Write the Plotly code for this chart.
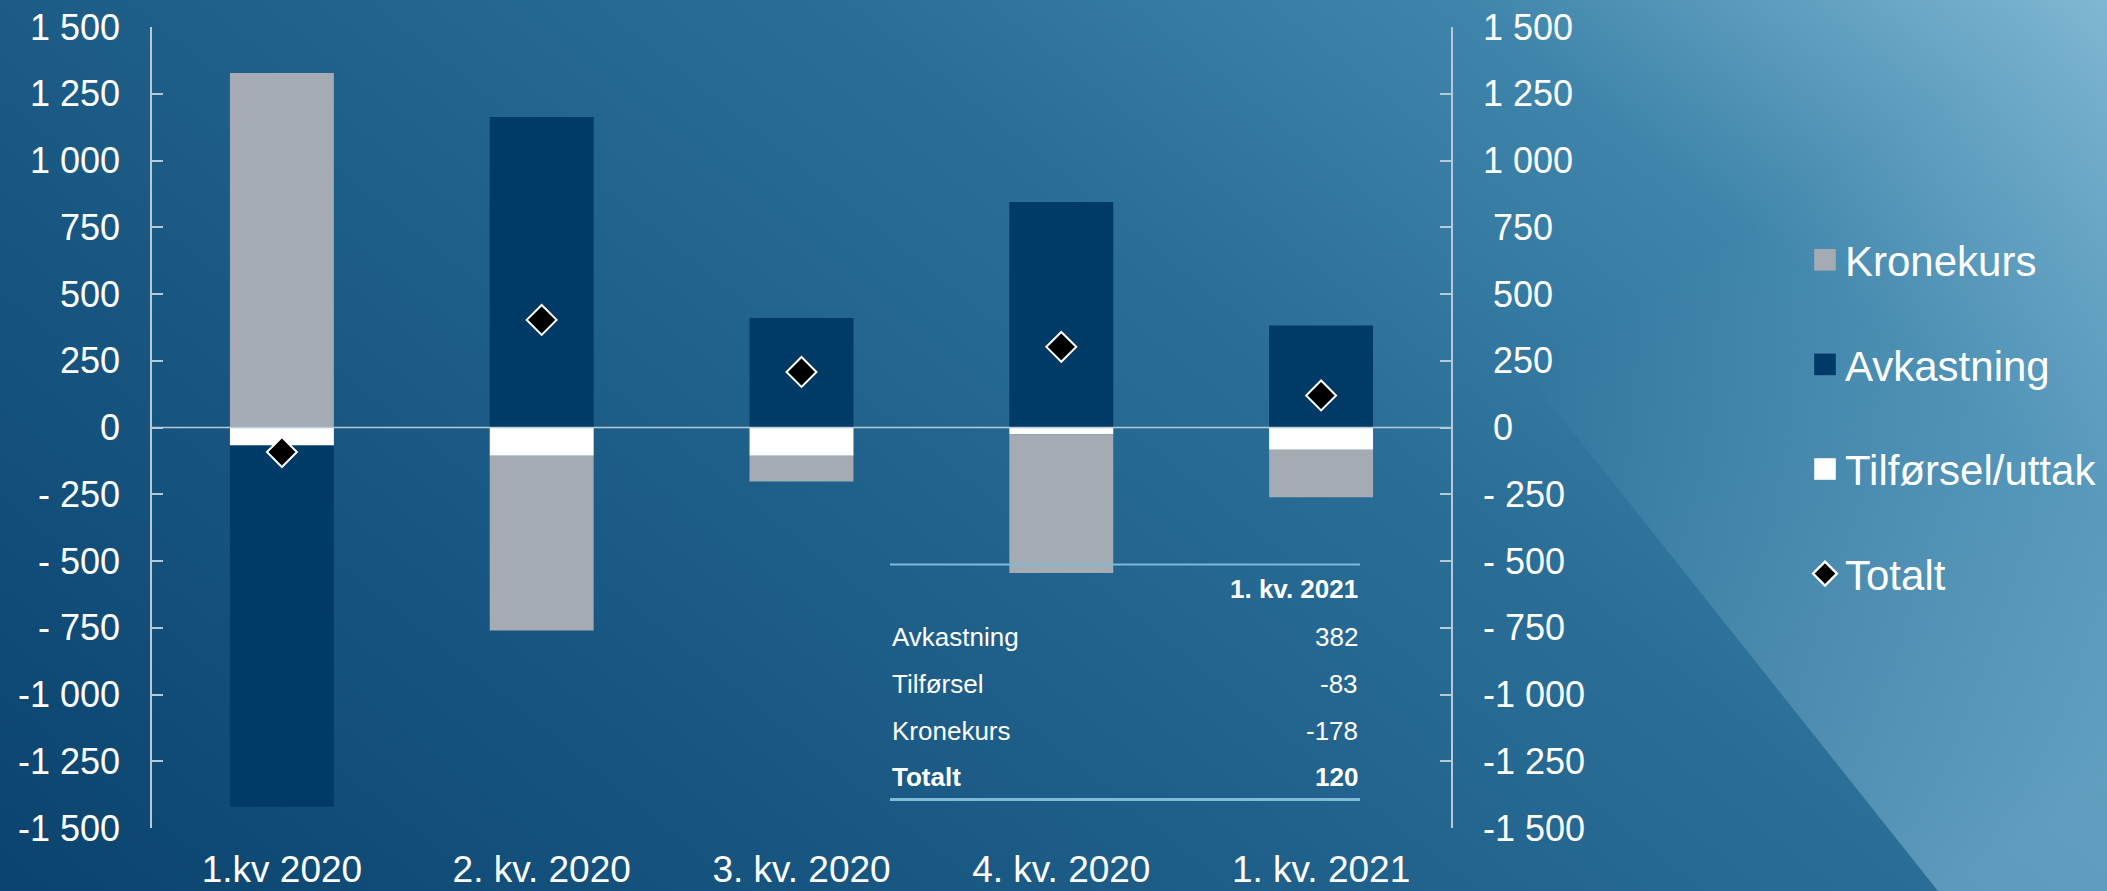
import base64
import plotly.graph_objects as go

# ---------------- data ----------------
categories = ["1.kv 2020", "2. kv. 2020", "3. kv. 2020", "4. kv. 2020", "1. kv. 2021"]
kronekurs = [1328, -654, -96, -520, -178]
avkastning = [-1353, 1163, 410, 845, 382]
tilforsel = [-67, -106, -106, -25, -83]
totalt = [-92, 403, 208, 302, 120]

tick_vals = [1500, 1250, 1000, 750, 500, 250, 0, -250, -500, -750, -1000, -1250, -1500]
tick_text_left = ["1 500", "1 250", "1 000", "750", "500", "250", "0",
                  "- 250", "- 500", "- 750", "-1 000", "-1 250", "-1 500"]
tick_text_right = ["1 500", "1 250", "1 000", "\u00a0750", "\u00a0500", "\u00a0250", "\u00a00",
                   "- 250", "- 500", "- 750", "-1 000", "-1 250", "-1 500"]

table_header = "1. kv. 2021"
table_labels = ["Avkastning", "Tilførsel", "Kronekurs", "Totalt"]
table_values = ["382", "-83", "-178", "120"]

# ---------------- geometry ----------------
W, H = 2107, 891
ML, MR, MT, MB = 152, 656, 27, 63
PW, PH = W - ML - MR, H - MT - MB


def px_x(px):
    return (px - ML) / PW


def px_y(py):
    return (H - MB - py) / PH


FONT = "Arial, Liberation Sans, sans-serif"
WHITE = "#ffffff"
AXIS_COL = "#b6c9d7"
GREY = "#a4abb2"
NAVY = "#003a66"

# ---------------- background (svg gradient) ----------------
svg = f"""<svg xmlns='http://www.w3.org/2000/svg' width='{W}' height='{H}' viewBox='0 0 {W} {H}' preserveAspectRatio='none'>
<defs>
<linearGradient id='g' gradientUnits='userSpaceOnUse' x1='0' y1='{H}' x2='1261' y2='-680'>
<stop offset='0' stop-color='#0a436e'/>
<stop offset='0.35' stop-color='#1c5c87'/>
<stop offset='0.6' stop-color='#2a6e97'/>
<stop offset='0.8' stop-color='#3f85ab'/>
<stop offset='1' stop-color='#80b7d3'/>
</linearGradient>
<linearGradient id='h' gradientUnits='userSpaceOnUse' x1='1526' y1='373' x2='1900' y2='920'>
<stop offset='0' stop-color='#8ec4de' stop-opacity='0'/>
<stop offset='1' stop-color='#8ec4de' stop-opacity='0.5'/>
</linearGradient>
</defs>
<rect x='0' y='0' width='{W}' height='{H}' fill='url(#g)'/>
<polygon points='1526,373 1938,{H} {W},{H} {W},0' fill='url(#h)'/>
</svg>"""
svg_uri = "data:image/svg+xml;base64," + base64.b64encode(svg.encode("utf-8")).decode("ascii")

# ---------------- traces ----------------
fig = go.Figure()
fig.add_trace(go.Bar(x=categories, y=tilforsel, name="Tilførsel/uttak",
                     marker=dict(color=WHITE, line=dict(width=0)), legendrank=3,
                     legendgroup="c"))
fig.add_trace(go.Bar(x=categories, y=kronekurs, name="Kronekurs",
                     marker=dict(color=GREY, line=dict(width=0)), legendrank=1,
                     legendgroup="a"))
fig.add_trace(go.Bar(x=categories, y=avkastning, name="Avkastning",
                     marker=dict(color=NAVY, line=dict(width=0)), legendrank=2,
                     legendgroup="b"))
fig.add_trace(go.Scatter(x=categories, y=totalt, name="Totalt", mode="markers",
                         yaxis="y2",
                         marker=dict(symbol="diamond", size=23, color="#000000",
                                     line=dict(color=WHITE, width=2)),
                         legendrank=4, legendgroup="d"))

axis_common = dict(
    range=[-1500, 1500], tickmode="array", tickvals=tick_vals,
    ticks="inside", ticklen=11, tickwidth=1.5, tickcolor=AXIS_COL,
    showline=True, linecolor=AXIS_COL, linewidth=1.5,
    showgrid=False, zeroline=False, automargin=False,
    tickfont=dict(family=FONT, size=36, color=WHITE),
    ticklabelstandoff=23, fixedrange=True,
)

shapes = [
    dict(type="line", xref="paper", yref="y", x0=0, x1=1, y0=0, y1=0,
         line=dict(color=AXIS_COL, width=1.5), layer="above"),
    dict(type="line", xref="paper", yref="paper", x0=px_x(890), x1=px_x(1360),
         y0=px_y(564.5), y1=px_y(564.5), line=dict(color="#7fbad8", width=2), layer="above"),
    dict(type="line", xref="paper", yref="paper", x0=px_x(890), x1=px_x(1360),
         y0=px_y(799.5), y1=px_y(799.5), line=dict(color="#7fbad8", width=3), layer="above"),
]

annotations = [dict(xref="paper", yref="paper", x=px_x(1360), y=px_y(589),
                    text=f"<b>{table_header}</b>", showarrow=False, xanchor="right",
                    yanchor="middle", font=dict(family=FONT, size=26, color=WHITE))]
row_y = [637, 684, 731, 777]
for i, (lab, val) in enumerate(zip(table_labels, table_values)):
    bold = i == len(table_labels) - 1
    lt = f"<b>{lab}</b>" if bold else lab
    vt = f"<b>{val}</b>" if bold else val
    annotations.append(dict(xref="paper", yref="paper", x=px_x(890), y=px_y(row_y[i]),
                            text=lt, showarrow=False, xanchor="left", yanchor="middle",
                            font=dict(family=FONT, size=26, color=WHITE)))
    annotations.append(dict(xref="paper", yref="paper", x=px_x(1360), y=px_y(row_y[i]),
                            text=vt, showarrow=False, xanchor="right", yanchor="middle",
                            font=dict(family=FONT, size=26, color=WHITE)))

fig.update_layout(
    width=W, height=H, autosize=False,
    margin=dict(l=ML, r=MR, t=MT, b=MB, pad=0, autoexpand=False),
    barmode="relative", bargap=0.6,
    paper_bgcolor="#1f628c", plot_bgcolor="rgba(0,0,0,0)",
    font=dict(family=FONT, color=WHITE),
    xaxis=dict(type="category", showline=False, showgrid=False, zeroline=False,
               ticks="", tickfont=dict(family=FONT, size=37, color=WHITE),
               ticklabelstandoff=16, fixedrange=True, automargin=False),
    yaxis=dict(side="left", ticktext=tick_text_left, **axis_common),
    yaxis2=dict(side="right", overlaying="y", ticktext=tick_text_right, **axis_common),
    legend=dict(xref="container", yref="container", x=1805 / W, y=1 - 226 / H,
                xanchor="left", yanchor="top", bgcolor="rgba(0,0,0,0)",
                font=dict(family=FONT, size=42, color=WHITE),
                tracegroupgap=47, itemsizing="trace", traceorder="grouped"),
    shapes=shapes, annotations=annotations,
    images=[dict(source=svg_uri, xref="paper", yref="paper",
                 x=-ML / PW, y=(H - MB) / PH, sizex=W / PW, sizey=H / PH,
                 xanchor="left", yanchor="top", sizing="stretch", layer="below")],
    showlegend=True,
)

post = """
document.body.style.margin='0';document.body.style.overflow='hidden';
var gd = document.getElementById('{plot_id}');
function growLegendIcons(){
  var ps = gd.querySelectorAll('.legend .legendpoints path');
  ps.forEach(function(p){
    if (p.getAttribute('data-grown')) return;
    p.setAttribute('data-grown', '1');
    var s = p.classList.contains('scatterpts') ? 1.15 : 1.8;
    p.setAttribute('transform', (p.getAttribute('transform') || '') + ' scale(' + s + ')');
  });
}
growLegendIcons();
if (gd.on) { gd.on('plotly_afterplot', growLegendIcons); }
setTimeout(growLegendIcons, 50);
setTimeout(growLegendIcons, 300);
"""
fig.write_html("out.html", config={"displayModeBar": False}, post_script=post)
